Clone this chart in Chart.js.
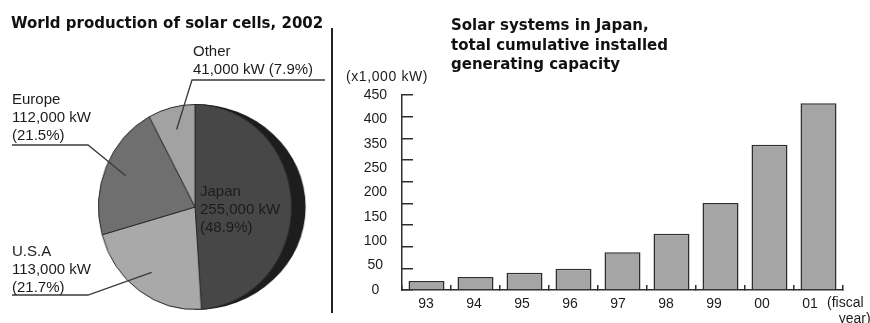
<!DOCTYPE html>
<html><head><meta charset="utf-8">
<script src="https://cdn.jsdelivr.net/npm/chart.js@4/dist/chart.umd.min.js"></script>
<style>
html,body{margin:0;padding:0;background:#fff;}
#stage{position:relative;width:870px;height:323px;overflow:hidden;font-family:"Liberation Sans",Arial,sans-serif;color:#1c1c1c;}
.abs{position:absolute;white-space:nowrap;}
.title{font-family:"DejaVu Sans",sans-serif;font-weight:bold;font-size:15px;line-height:19.5px;color:#111;}
.lbl{font-size:15px;line-height:18px;}
canvas{display:block;}
</style></head><body>
<div id="stage">
  <canvas id="pie" width="240" height="240" class="abs"></canvas>
  <canvas id="bar" width="535" height="323" class="abs" style="left:335px;top:0;width:535px;height:323px"></canvas>
  <canvas id="leaders" width="340" height="323" class="abs" style="left:0;top:0;width:340px;height:323px"></canvas>
  <div class="abs title" style="left:11px;top:14px">World production of solar cells, 2002</div>
  <div class="abs title" style="left:451px;top:16px">Solar systems in Japan,<br>total cumulative installed<br>generating capacity</div>
  <div class="abs" style="left:346px;top:68px;font-size:14px;letter-spacing:0.6px">(x1,000 kW)</div>
  <div class="abs" style="left:827px;top:294px;font-size:14px;line-height:16px">(fiscal<br>&nbsp;&nbsp;&nbsp;year)</div>
  <div class="abs" style="left:331px;top:28px;width:1.5px;height:285px;background:#222"></div>
  <div id="pieLabels"></div>
</div>
<script>
// World production of solar cells, 2002 (kW)
const regions = ['Japan', 'U.S.A', 'Europe', 'Other'];
const production = [255000, 113000, 112000, 41000];
const sliceColors = ['#474747', '#a9a9a9', '#6f6f6f', '#a2a2a2'];

// Japan: cumulative installed capacity by fiscal year (x1,000 kW)
const fiscalYears = ['93', '94', '95', '96', '97', '98', '99', '00', '01'];
const capacity = [21, 30, 40, 49, 87, 130, 201, 335, 431];
const yTickLabels = ['0', '50', '100', '150', '200', '250', '350', '400', '450'];

// pie canvas placement (the pie is drawn slightly narrower than tall)
const PIE_LEFT = 82.2, PIE_TOP = 87, PIE_SX = 0.94;
const pieCanvas = document.getElementById('pie');
pieCanvas.style.left = PIE_LEFT + 'px';
pieCanvas.style.top = PIE_TOP + 'px';
pieCanvas.style.width = (pieCanvas.width * PIE_SX) + 'px';
pieCanvas.style.height = pieCanvas.height + 'px';

// label blocks and their underline/leader lines
const labelLayout = [
  { i: 0, left: 200, top: 181.5, lines: 3 },
  { i: 1, left: 12, top: 241.5, lines: 3, rule: [[12, 295], [88, 295]] },
  { i: 2, left: 12, top: 89.5, lines: 3, rule: [[12, 145], [88, 145]] },
  { i: 3, left: 193, top: 41.5, lines: 2, rule: [[325, 80], [192, 80]] }
];

const total = production.reduce((a, b) => a + b, 0);
const holder = document.getElementById('pieLabels');
labelLayout.forEach(l => {
  const v = production[l.i];
  const kw = v.toLocaleString('en-US') + ' kW';
  const pct = '(' + (v / total * 100).toFixed(1) + '%)';
  const d = document.createElement('div');
  d.className = 'abs lbl';
  d.style.left = l.left + 'px';
  d.style.top = l.top + 'px';
  d.innerHTML = l.lines === 3
    ? regions[l.i] + '<br>' + kw + '<br>' + pct
    : regions[l.i] + '<br>' + kw + ' ' + pct;
  holder.appendChild(d);
});

// dark side band behind the Japan slice
const sideBand = {
  id: 'sideBand',
  beforeDatasetsDraw(chart) {
    const arc = chart.getDatasetMeta(0).data[0];
    const { x, y, outerRadius } = arc.getProps(['x', 'y', 'outerRadius'], true);
    const ctx = chart.ctx;
    ctx.save();
    ctx.beginPath();
    ctx.ellipse(x, y, outerRadius + 15, outerRadius + 0.5, 0, -Math.PI / 2, Math.PI / 2);
    ctx.closePath();
    ctx.fillStyle = '#1d1d1d';
    ctx.fill();
    ctx.restore();
  }
};

// underline + leader line from each outside label into its slice
const leaderLines = {
  id: 'leaderLines',
  afterDraw(chart) {
    const lc = document.getElementById('leaders').getContext('2d');
    lc.clearRect(0, 0, 340, 323);
    const arcs = chart.getDatasetMeta(0).data;
    lc.strokeStyle = '#3a3a3a';
    lc.lineWidth = 1.3;
    labelLayout.filter(l => l.rule).forEach(l => {
      const p = arcs[l.i].getProps(['x', 'y', 'startAngle', 'endAngle', 'outerRadius'], true);
      const mid = (p.startAngle + p.endAngle) / 2;
      const r = p.outerRadius * 0.78;
      const ex = PIE_LEFT + (p.x + Math.cos(mid) * r) * PIE_SX;
      const ey = PIE_TOP + p.y + Math.sin(mid) * r;
      lc.beginPath();
      lc.moveTo(l.rule[0][0], l.rule[0][1]);
      lc.lineTo(l.rule[1][0], l.rule[1][1]);
      lc.lineTo(ex, ey);
      lc.stroke();
    });
  }
};

new Chart(pieCanvas, {
  type: 'pie',
  data: {
    labels: regions,
    datasets: [{
      data: production,
      backgroundColor: sliceColors,
      borderColor: '#2a2a2a',
      borderWidth: 1
    }]
  },
  options: {
    responsive: false,
    animation: false,
    events: [],
    layout: { padding: 17 },
    plugins: { legend: { display: false }, tooltip: { enabled: false } }
  },
  plugins: [sideBand, leaderLines]
});

const barFont = { family: '"Liberation Sans", Arial, sans-serif', size: 14 };

// year labels sit on a slightly tighter pitch (48 px) than the bar slots (49 px)
const PLOT_WIDTH = 441, LABEL_PITCH = 48, LABEL_START = 24;
const xlMin = -LABEL_START / LABEL_PITCH;
const xlMax = xlMin + PLOT_WIDTH / LABEL_PITCH;

new Chart(document.getElementById('bar'), {
  type: 'bar',
  data: {
    labels: fiscalYears,
    datasets: [{
      data: capacity,
      backgroundColor: '#a5a5a5',
      borderColor: '#2e2e2e',
      borderWidth: 1.5,
      categoryPercentage: 1,
      barPercentage: 0.735,
      xAxisID: 'x',
      yAxisID: 'y'
    }]
  },
  options: {
    responsive: false,
    animation: false,
    events: [],
    layout: { padding: { left: 0, right: 27, top: 95, bottom: 0 } },
    plugins: { legend: { display: false }, tooltip: { enabled: false } },
    scales: {
      x: {
        position: 'bottom',
        grid: { display: true, drawOnChartArea: false, drawTicks: true, tickLength: -5, offset: true, color: '#2e2e2e', lineWidth: 1.5 },
        border: { display: true, color: '#2e2e2e', width: 1.5 },
        ticks: { display: false },
        afterFit(s) { s.height = 33; }
      },
      xl: {
        type: 'linear',
        axis: 'x',
        position: { y: 0 },
        offset: false,
        bounds: 'data',
        min: xlMin, max: xlMax,
        grid: { display: false, offset: false },
        border: { display: false },
        afterBuildTicks(s) { s.ticks = fiscalYears.map((_, i) => ({ value: i })); },
        ticks: {
          autoSkip: false,
          maxRotation: 0,
          font: barFont,
          color: '#1c1c1c',
          padding: -2,
          callback: (v, i) => fiscalYears[i]
        },
        afterFit(s) { s.height = 0; }
      },
      y: {
        type: 'linear',
        position: 'left',
        weight: 0,
        min: 0, max: 450,
        ticks: { stepSize: 50, display: false },
        grid: { display: true, drawOnChartArea: false, drawTicks: true, tickLength: -11, color: '#2e2e2e', lineWidth: 1.5 },
        border: { display: true, color: '#2e2e2e', width: 1.5 },
        afterFit(s) { s.width = 0; }
      },
      yl: {
        type: 'linear',
        position: 'left',
        weight: 1,
        min: 0, max: 450,
        grid: { display: false },
        border: { display: false },
        ticks: {
          stepSize: 450 / (yTickLabels.length - 1),
          autoSkip: false,
          font: barFont,
          color: '#1c1c1c',
          padding: 7,
          crossAlign: 'center',
          callback: (v, i) => yTickLabels[i]
        },
        afterFit(s) { s.width = 67; }
      }
    }
  }
});
</script>
</body></html>
